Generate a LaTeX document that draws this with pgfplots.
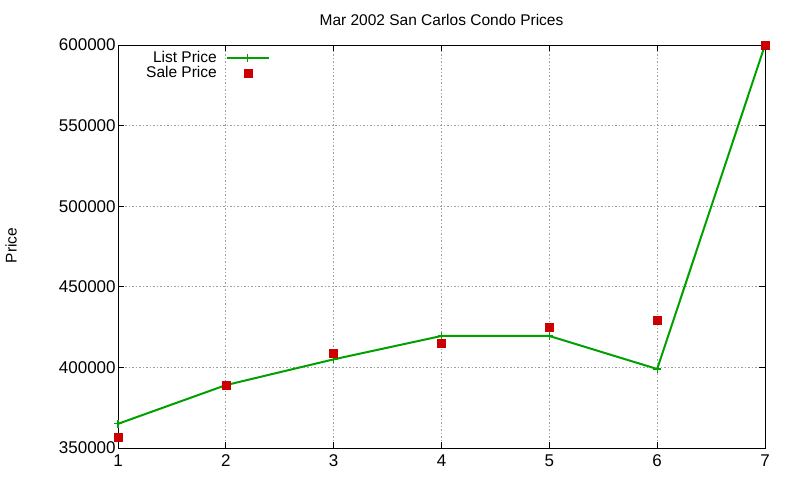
\documentclass[border=0pt]{standalone}
\usepackage{pgfplots}
\pgfplotsset{compat=1.18}
\usepackage{fontspec}
\setmainfont{Liberation Sans}
\definecolor{lgreen}{RGB}{0,160,0}
\definecolor{sred}{RGB}{204,0,0}
\definecolor{gridgray}{RGB}{160,160,160}
\begin{document}
\fontsize{15.5}{17}\selectfont
\begin{tikzpicture}
\useasboundingbox (0,0) rectangle (800pt,480pt);
\begin{axis}[
  at={(118pt,32pt)}, anchor=south west,
  scale only axis, width=647pt, height=403pt,
  xmin=1, xmax=7, ymin=350000, ymax=600000,
  xtick={1,2,3,4,5,6,7}, xticklabels={1,2,3,4,5,6,7},
  ytick={350000,400000,450000,500000,550000,600000},
  yticklabels={350000,400000,450000,500000,550000,600000},
  scaled y ticks=false,
  ticklabel style={font=\fontsize{17}{19}\selectfont},
  xticklabel style={yshift=-1pt},
  yticklabel style={xshift=3pt},
  grid=major, grid style={gridgray, dash pattern=on 1.5pt off 2pt, line width=0.8pt},
  tick align=inside, major tick length=6pt,
  tick style={black, line width=0.8pt},
  axis line style={line width=0.9pt},
  title={Mar 2002 San Carlos Condo Prices},
  title style={at={(axis description cs:0.5,1)}, anchor=base, yshift=13pt, font=\fontsize{15.5}{17}\selectfont},
  ylabel={Price},
  ylabel style={at={(axis description cs:-0.1654,0.5025)}, anchor=center, rotate=0, font=\fontsize{15.5}{17}\selectfont},
  legend style={at={(axis description cs:0.2365,0.993)}, anchor=north east, draw=none, fill=none,
    inner sep=1pt, row sep=-2.5pt, column sep=7pt, font=\fontsize{15.5}{17}\selectfont},
  legend plot pos=right, legend cell align=right,
  legend image code/.code={\draw[mark repeat=2, mark phase=2] plot coordinates {(0pt,0pt) (21pt,0pt) (42pt,0pt)};},
]
\addplot[color=lgreen, line width=2pt, mark=+, mark size=4pt, mark options={line width=1.2pt}]
coordinates {(1,365000)(2,389000)(3,405000)(4,419500)(5,419500)(6,399000)(7,600000)};
\addlegendentry{List Price}
\addplot[only marks, mark=square*, mark size=4pt, color=sred, fill=sred]
coordinates {(1,357000)(2,389000)(3,409000)(4,415000)(5,425000)(6,429000)(7,600000)};
\addlegendentry{Sale Price}
\end{axis}
\end{tikzpicture}
\end{document}
